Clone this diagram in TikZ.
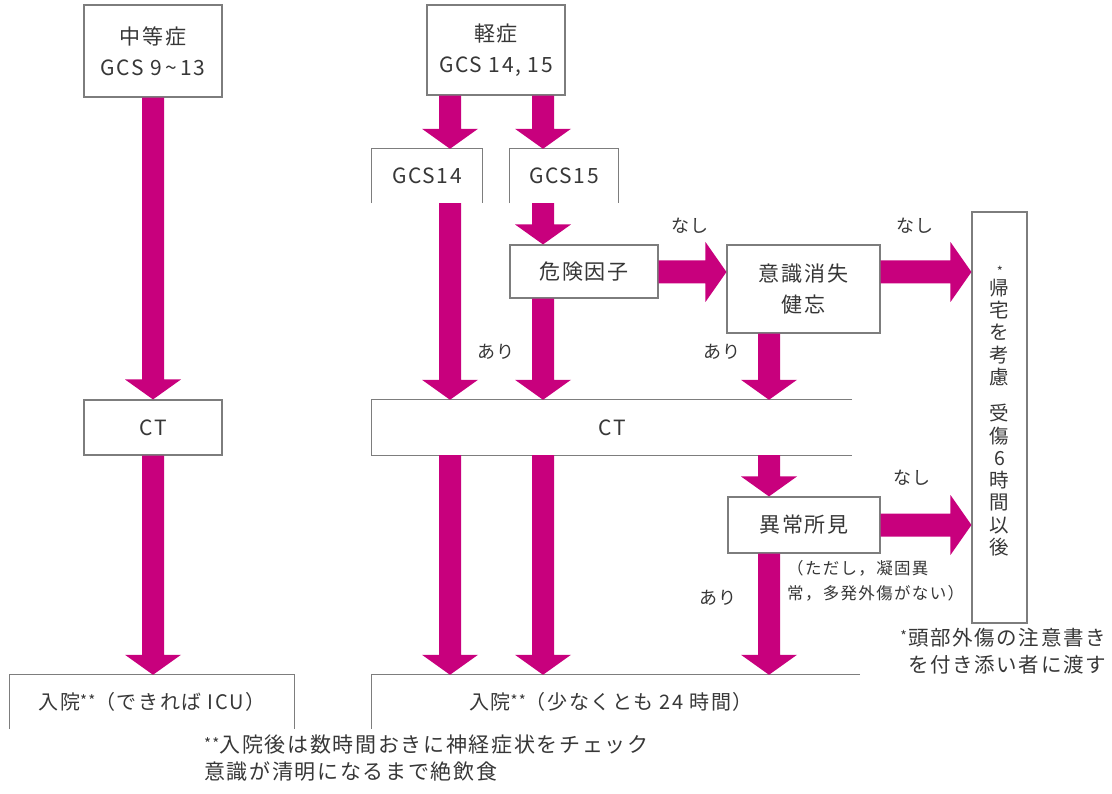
\documentclass[tikz,border=0pt]{standalone}
\usepackage{fontspec}
\setmainfont{Noto Sans CJK JP}[LetterSpace=8]
\usetikzlibrary{calc}
\definecolor{mag}{RGB}{200,0,125}
\definecolor{txt}{RGB}{55,55,55}
\definecolor{ln}{RGB}{125,125,125}
\newcommand\jfs[2]{\fontsize{#1}{#2}\selectfont}
\newcommand\dstar{\raisebox{3pt}{\jfs{15}{15}**}}
% fat arrows drawn from one named point to another
\newcommand\fatdown[2]{%
  \fill[mag] ($(#1)+(-11,0)$) -- ($(#2)+(-11,-20)$) -- ($(#2)+(-28,-20)$) -- (#2)
   -- ($(#2)+(28,-20)$) -- ($(#2)+(11,-20)$) -- ($(#1)+(11,0)$) -- cycle;}
\newcommand\fatright[2]{%
  \fill[mag] ($(#1)+(0,-11.5)$) -- ($(#2)+(-21,-11.5)$) -- ($(#2)+(-21,-30)$) -- (#2)
   -- ($(#2)+(-21,30)$) -- ($(#2)+(-21,11.5)$) -- ($(#1)+(0,11.5)$) -- cycle;}
\begin{document}
\begin{tikzpicture}[x=1pt,y=-1pt,
  every node/.style={text=txt, inner sep=0pt},
  box/.style={draw=ln, line width=1.1pt, align=center, font=\jfs{21}{31}},
  openbox/.style={align=center, font=\jfs{21}{31}},
  side/.style={draw=ln, line width=1.1pt},
  lbl/.style={font=\jfs{18}{18}},
  note/.style={align=left, font=\jfs{16.5}{25}},
  foot/.style={align=left, font=\jfs{21}{27}}]
\useasboundingbox (0,0) rectangle (1112,794);

% boxes
\node[box, minimum width=138pt, minimum height=92pt] (mod) at (153,51) {中等症\\GCS 9\,\textasciitilde\,13};
\node[box, minimum width=138pt, minimum height=90pt] (mild) at (496,50) {軽症\\GCS 14, 15};
\node[openbox, minimum width=110pt, minimum height=54pt] (g14) at (427,176) {GCS14};
\node[openbox, minimum width=108pt, minimum height=54pt] (g15) at (564,176) {GCS15};
\node[box, minimum width=148pt, minimum height=53pt] (risk) at (584,271.5) {危険因子};
\node[box, minimum width=153pt, minimum height=88pt] (loc) at (803.5,289) {意識消失\\健忘};
\node[box, minimum width=55pt, minimum height=411pt, font=\jfs{19.5}{22.3}] (home) at (999.5,417.5)
  {帰\\宅\\を\\考\\慮\\[14pt]受\\傷\\6\\時\\間\\以\\後};
\node[font=\jfs{13}{13}] (homestar) at (1000,271) {*};
\node[box, minimum width=138pt, minimum height=55pt] (ctL) at (153,427.5) {CT};
\node[openbox, minimum width=480pt, minimum height=55pt] (ctR) at (612,427.5) {CT};
\node[box, minimum width=152pt, minimum height=56pt] (abn) at (804,525) {異常所見};
\node[openbox, minimum width=284pt, minimum height=54pt, font=\jfs{20}{30}] (admL) at (152,702)
  {入院\dstar（できれば ICU）};
\node[openbox, minimum width=488pt, minimum height=54pt] (admR) at (616,702) {};
\node[font=\jfs{20}{30}] (admRt) at (611,702) {入院\dstar（少なくとも 24 時間）};

% open sides
\draw[side] (g14.south west) -- (g14.north west) -- (g14.north east) -- (g14.south east);
\draw[side] (g15.south west) -- (g15.north west) -- (g15.north east) -- (g15.south east);
\draw[side] (ctR.north east) -- (ctR.north west) -- (ctR.south west) -- (ctR.south east);
\draw[side] (admL.south west) -- (admL.north west) -- (admL.north east) -- (admL.south east);
\draw[side] (admR.north east) -- (admR.north west) -- (admR.south west);

% columns for arrows
\coordinate (xa) at (450,0);
\coordinate (xb) at (543,0);
\coordinate (xc) at (769,0);
\coordinate (yr) at (0,272);

% vertical arrows
\fatdown{mod.south}{ctL.north}
\fatdown{ctL.south}{admL.north -| ctL.south}
\fatdown{mild.south -| xa}{g14.north -| xa}
\fatdown{mild.south -| xb}{g15.north -| xb}
\fatdown{g14.south -| xa}{ctR.north -| xa}
\fatdown{g15.south -| xb}{risk.north -| xb}
\fatdown{risk.south -| xb}{ctR.north -| xb}
\fatdown{loc.south -| xc}{ctR.north -| xc}
\fatdown{ctR.south -| xa}{admR.north -| xa}
\fatdown{ctR.south -| xb}{admR.north -| xb}
\fatdown{ctR.south -| xc}{abn.north -| xc}
\fatdown{abn.south -| xc}{admR.north -| xc}

% horizontal arrows
\fatright{risk.east |- yr}{loc.west |- yr}
\fatright{loc.east |- yr}{home.west |- yr}
\fatright{abn.east}{home.west |- abn.east}

% labels
\node[lbl] (n1) at (690,226) {なし};
\node[lbl] (n2) at (915,226) {なし};
\node[lbl] (n3) at (912,478) {なし};
\node[lbl] (a1) at (496,352) {あり};
\node[lbl] (a2) at (722,352) {あり};
\node[lbl] (a3) at (718,598) {あり};

\node[note, anchor=west] (cond) at (787,581) {（ただし，凝固異\\常，多発外傷がない）};
\node[foot, anchor=north west, font=\jfs{20.5}{27}] (fr) at (899,628)
  {\makebox[9pt]{\raisebox{4pt}{\jfs{14}{14}*}}頭部外傷の注意書き\\\makebox[9pt]{}を付き添い者に渡す};
\node[foot, anchor=north west] (fb) at (204,735)
  {\dstar 入院後は数時間おきに神経症状をチェック\\意識が清明になるまで絶飲食};
\end{tikzpicture}
\end{document}
